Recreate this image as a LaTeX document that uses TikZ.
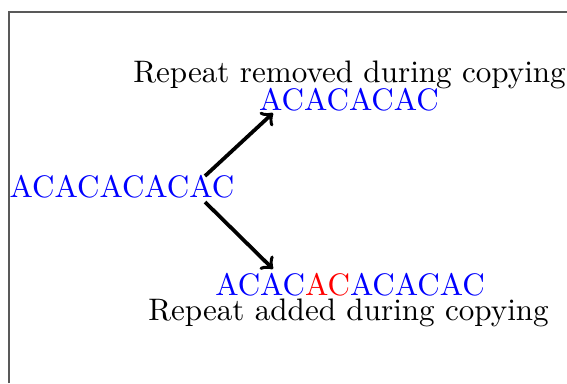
\documentclass[tikz,border=0pt]{standalone}
\usepackage{fontspec}
\begin{document}
\begin{tikzpicture}[x=0.3216pt,y=-0.3216pt,
  seq/.style={text=blue,inner sep=0pt,anchor=base},
  lbl/.style={text=black,inner sep=0pt,anchor=base},
  arr/.style={->,line width=1.2pt},
  frame/.style={draw=black!65,line width=0.45pt}]
\useasboundingbox (0,0) rectangle (567,383);
\draw[frame] (9,383) -- (9,12) -- (567,12);
\node[seq] (main) at (122,197) {ACACACACAC};
\node[seq] (top) at (349,110) {ACACACAC};
\node[lbl] (removed) at (349.5,82) {Repeat removed during copying};
\node[seq] (bottom) at (350,295) {ACAC\textcolor{red}{AC}ACACAC};
\node[lbl] (added) at (348.5,320) {Repeat added during copying};
\coordinate (s1) at (205,176);
\coordinate (e1) at (273,113);
\coordinate (s2) at (205,202);
\coordinate (e2) at (273,269);
\draw[arr] (s1) -- (e1);
\draw[arr] (s2) -- (e2);
\end{tikzpicture}
\end{document}
